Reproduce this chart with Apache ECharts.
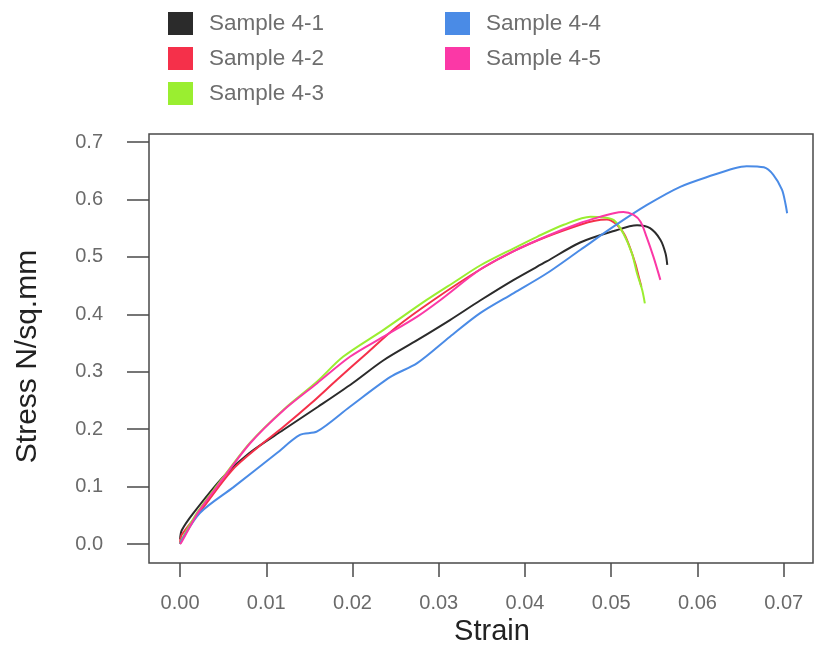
<!DOCTYPE html>
<html>
<head>
<meta charset="utf-8">
<script src="https://cdn.jsdelivr.net/npm/echarts@6/dist/echarts.min.js"></script>
<style>
html,body{margin:0;padding:0;background:#fff;}
#chart{width:816px;height:652px;}
</style>
</head>
<body>
<div id="chart"></div>
<script>
var seriesNames = ['Sample 4-1', 'Sample 4-2', 'Sample 4-3', 'Sample 4-4', 'Sample 4-5'];
var seriesColors = ['#2b2b2b', '#f5304a', '#9aee30', '#4a8be6', '#fb38a6'];

var xTicks = [0, 0.01, 0.02, 0.03, 0.04, 0.05, 0.06, 0.07];
var yTicks = [0, 0.1, 0.2, 0.3, 0.4, 0.5, 0.6, 0.7];

var s41Strain = [0, 0.0002, 0.0015, 0.005, 0.008, 0.012, 0.016, 0.020, 0.0236, 0.0275, 0.0313, 0.0348, 0.0387, 0.0425, 0.0464, 0.0503, 0.0530, 0.0545, 0.0557, 0.0563, 0.0565];
var s41Stress = [0.008, 0.024, 0.053, 0.117, 0.158, 0.199, 0.239, 0.280, 0.320, 0.355, 0.390, 0.424, 0.460, 0.492, 0.525, 0.545, 0.555, 0.550, 0.530, 0.506, 0.486];

var s42Strain = [0, 0.0002, 0.0025, 0.006, 0.009, 0.012, 0.0152, 0.0182, 0.0215, 0.0251, 0.0294, 0.0348, 0.0387, 0.0425, 0.0464, 0.0481, 0.0495, 0.0505, 0.0515, 0.0522, 0.0528, 0.0532, 0.0535];
var s42Stress = [0, 0.016, 0.060, 0.128, 0.168, 0.204, 0.245, 0.286, 0.330, 0.378, 0.425, 0.478, 0.510, 0.535, 0.556, 0.563, 0.565, 0.558, 0.540, 0.515, 0.488, 0.465, 0.448];

var s43Strain = [0, 0.0002, 0.002, 0.0043, 0.0081, 0.012, 0.0159, 0.0189, 0.0236, 0.0286, 0.0320, 0.0348, 0.0387, 0.0414, 0.0445, 0.0476, 0.0490, 0.0503, 0.0514, 0.0524, 0.0530, 0.0536, 0.0539];
var s43Stress = [0, 0.008, 0.055, 0.102, 0.176, 0.234, 0.283, 0.326, 0.373, 0.425, 0.458, 0.485, 0.515, 0.535, 0.556, 0.570, 0.569, 0.564, 0.541, 0.506, 0.471, 0.442, 0.419];

var s44Strain = [0, 0.0002, 0.0023, 0.0062, 0.0112, 0.0139, 0.0159, 0.0197, 0.0244, 0.0275, 0.0313, 0.0348, 0.0387, 0.0425, 0.0464, 0.0503, 0.0541, 0.0580, 0.0619, 0.0642, 0.0657, 0.0677, 0.0688, 0.0698, 0.0702, 0.0704];
var s44Stress = [0, 0.007, 0.054, 0.099, 0.158, 0.190, 0.196, 0.239, 0.291, 0.315, 0.361, 0.402, 0.437, 0.471, 0.512, 0.553, 0.590, 0.622, 0.643, 0.654, 0.658, 0.656, 0.643, 0.617, 0.593, 0.576];

var s45Strain = [0, 0.0002, 0.0021, 0.0043, 0.0081, 0.012, 0.0159, 0.0197, 0.0236, 0.0275, 0.0302, 0.0348, 0.0387, 0.0425, 0.0464, 0.0483, 0.0503, 0.0514, 0.0526, 0.0534, 0.0541, 0.0549, 0.0557];
var s45Stress = [0, 0.004, 0.055, 0.100, 0.175, 0.233, 0.280, 0.326, 0.361, 0.396, 0.425, 0.478, 0.510, 0.536, 0.559, 0.568, 0.576, 0.578, 0.573, 0.561, 0.535, 0.500, 0.460];

var strains = [s41Strain, s42Strain, s43Strain, s44Strain, s45Strain];
var stresses = [s41Stress, s42Stress, s43Stress, s44Stress, s45Stress];

function zip(a, b) { return a.map(function (v, i) { return [v, b[i]]; }); }

var series = seriesNames.map(function (name, i) {
  return {
    name: name,
    type: 'line',
    data: zip(strains[i], stresses[i]),
    showSymbol: false,
    symbol: 'none',
    smooth: 0.3,
    lineStyle: { color: seriesColors[i], width: 2 },
    itemStyle: { color: seriesColors[i] },
    clip: false
  };
});

var legendText = { fontFamily: 'Liberation Sans, Arial, sans-serif', fontSize: 22.5, color: '#6e6e6e', padding: [0, 0, 0, 11] };

var chart = echarts.init(document.getElementById('chart'));
chart.setOption({
  animation: false,
  backgroundColor: '#ffffff',
  legend: [
    { data: seriesNames.slice(0, 3), orient: 'vertical', left: 163, top: 7, icon: 'rect', itemWidth: 25, itemHeight: 23, itemGap: 12, textStyle: legendText, selectedMode: false },
    { data: seriesNames.slice(3), orient: 'vertical', left: 440, top: 7, icon: 'rect', itemWidth: 25, itemHeight: 23, itemGap: 12, textStyle: legendText, selectedMode: false }
  ],
  grid: { left: 149, top: 134, right: 3, bottom: 89, show: true, borderColor: '#4a4a4a', borderWidth: 1.5, backgroundColor: 'transparent' },
  xAxis: {
    type: 'value', min: -0.0036, max: 0.0734,
    name: 'Strain', nameLocation: 'middle', nameGap: 54,
    nameTextStyle: { fontFamily: 'Liberation Sans, Arial, sans-serif', fontSize: 29, color: '#222', padding: [0, 0, 0, 22] },
    axisLine: { show: false, onZero: false },
    axisTick: { show: true, inside: false, length: 14, customValues: xTicks, lineStyle: { color: '#4a4a4a', width: 1.5 } },
    axisLabel: { customValues: xTicks, margin: 30, fontFamily: 'Liberation Sans, Arial, sans-serif', fontSize: 20, color: '#6a6a6a', formatter: function (v) { return v.toFixed(2); } },
    splitLine: { show: false }
  },
  yAxis: {
    type: 'value', min: -0.0331, max: 0.714,
    name: 'Stress N/sq.mm', nameLocation: 'middle', nameGap: 106,
    nameTextStyle: { fontFamily: 'Liberation Sans, Arial, sans-serif', fontSize: 30, color: '#222', padding: [0, 16, 0, 0] },
    axisLine: { show: false, onZero: false },
    axisTick: { show: true, inside: false, length: 22, customValues: yTicks, lineStyle: { color: '#4a4a4a', width: 1.5 } },
    axisLabel: { customValues: yTicks, margin: 46, fontFamily: 'Liberation Sans, Arial, sans-serif', fontSize: 20, color: '#6a6a6a', formatter: function (v) { return v.toFixed(1); } },
    splitLine: { show: false }
  },
  series: series
});
</script>
</body>
</html>
